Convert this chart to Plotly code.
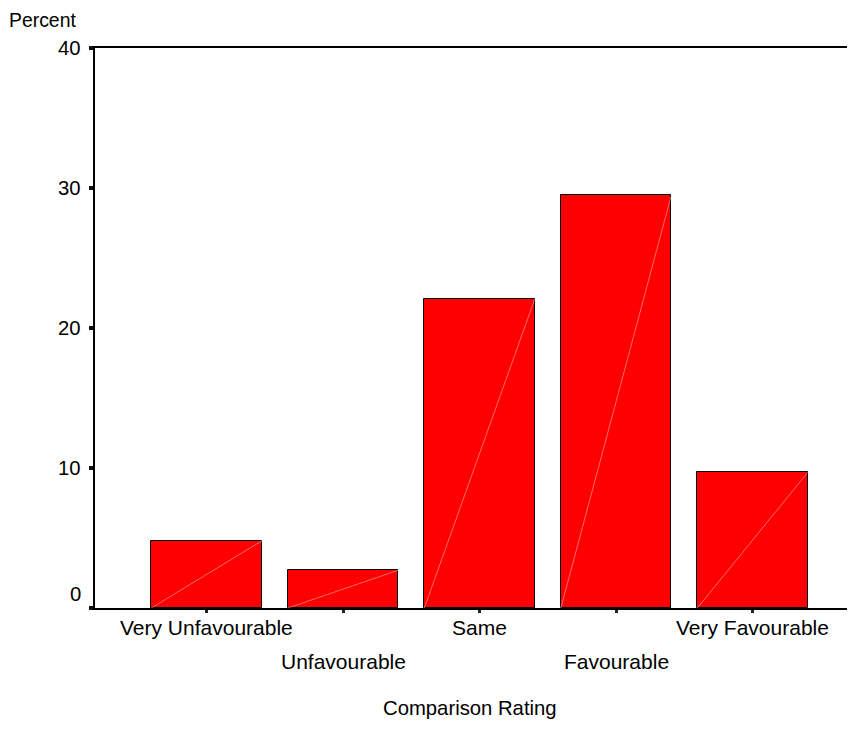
import plotly.graph_objects as go

categories = ["Very Unfavourable", "Unfavourable", "Same", "Favourable", "Very Favourable"]
percent = [4.8, 2.7, 22.1, 29.5, 9.7]
y_ticks = [0, 10, 20, 30, 40]

bar_width = 0.81
xs = list(range(len(categories)))

fig = go.Figure()
fig.add_trace(go.Bar(
    x=xs, y=percent, width=bar_width,
    marker=dict(color="#FF0000", line=dict(color="black", width=1)),
    showlegend=False, hoverinfo="skip",
))
# faint diagonal rendering artefact inside each bar
for i, v in zip(xs, percent):
    fig.add_trace(go.Scatter(
        x=[i - bar_width / 2, i + bar_width / 2], y=[0, v],
        mode="lines", line=dict(color="rgba(255,190,190,0.8)", width=0.7),
        showlegend=False, hoverinfo="skip",
    ))

family = "Liberation Sans, Arial, sans-serif"
font = dict(family=family, size=20.3, color="black")
xfont = dict(family=family, size=21, color="black")

annotations = []
for i, c in enumerate(categories):
    annotations.append(dict(
        x=i, y=0, xref="x", yref="paper", text=c, showarrow=False,
        xanchor="center", yanchor="middle", yshift=-19 - (34 if i % 2 else 0), font=xfont,
    ))
for t in y_ticks:
    annotations.append(dict(
        x=0, y=t, xref="paper", yref="y", text=str(t), showarrow=False,
        xanchor="right", yanchor="middle", xshift=-12, yshift=(14 if t == 0 else 0), font=font,
    ))
annotations.append(dict(
    x=0.493, y=0, xref="paper", yref="paper", text="Comparison Rating", showarrow=False,
    xanchor="center", yanchor="middle", yshift=-100, font=font,
))
annotations.append(dict(
    x=0, y=1, xref="paper", yref="paper", text="Percent", showarrow=False,
    xanchor="left", yanchor="middle", xshift=-88, yshift=28, font=dict(family=family, size=19.4, color="black"),
))

fig.update_layout(
    width=847, height=738,
    margin=dict(l=87, r=0, t=40, b=138, pad=0, autoexpand=False),
    plot_bgcolor="white", paper_bgcolor="white",
    font=font,
    annotations=annotations,
    bargap=0,
)
fig.update_xaxes(
    range=[-0.818, 4.75], showgrid=False, zeroline=False,
    showline=True, linecolor="black", linewidth=1.5, mirror=True,
    ticks="outside", ticklen=3, tickwidth=3, tickcolor="#222",
    tickvals=xs, showticklabels=False,
)
fig.update_yaxes(
    range=[0, 40], showgrid=False, zeroline=False,
    showline=True, linecolor="black", linewidth=1.5,
    ticks="outside", ticklen=4, tickwidth=4, tickcolor="#111",
    tickvals=y_ticks, showticklabels=False,
)

fig.write_html("out.html")
